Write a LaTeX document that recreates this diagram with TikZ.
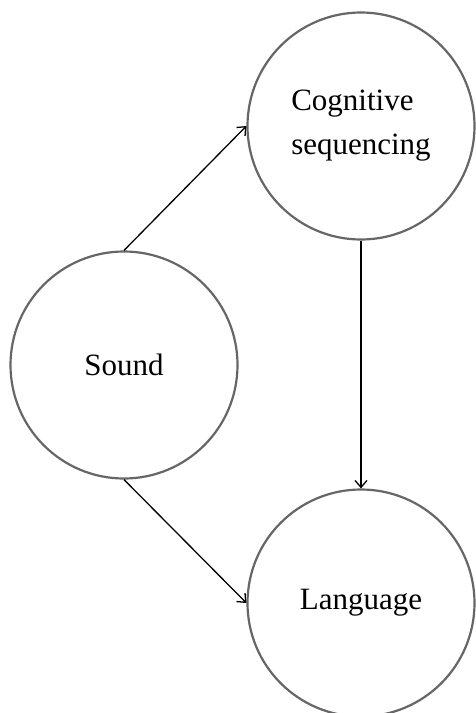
\documentclass[tikz,border=0pt]{standalone}
\usepackage{fontspec}
\setmainfont{Liberation Serif}
\usetikzlibrary{arrows.meta}
\definecolor{ringgray}{HTML}{666666}
\tikzset{
  ring/.style={circle, draw=ringgray, line width=2.2pt, minimum size=227pt, inner sep=0pt,
    font=\fontsize{31}{44}\selectfont},
  link/.style={line width=1.3pt, -{Straight Barb[length=7pt,width=12pt]}}
}
\begin{document}
\begin{tikzpicture}[x=1pt,y=-1pt]
\useasboundingbox (0,0) rectangle (476,713);
\node[ring, align=left] (cog) at (361,126) {Cognitive\\sequencing};
\node[ring] (sound) at (124,365) {Sound};
\node[ring] (lang) at (361,603) {Language};
\draw[link] (sound.north) -- (cog.west);
\draw[link] (sound.south) -- (lang.west);
\draw[link] (cog.south) -- (lang.north);
\end{tikzpicture}
\end{document}
